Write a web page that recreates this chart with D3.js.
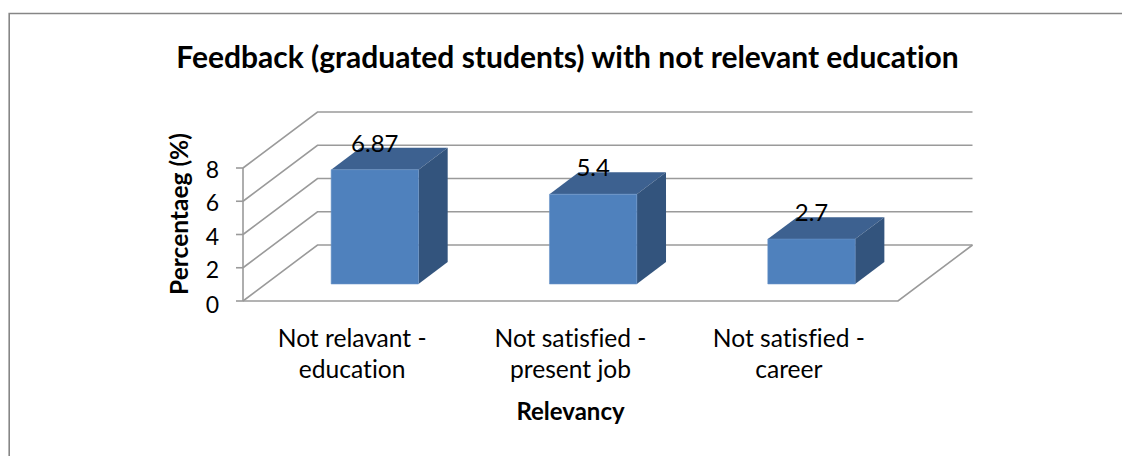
<!DOCTYPE html>
<html>
<head>
<meta charset="utf-8">
<script src="https://cdn.jsdelivr.net/npm/d3@7/dist/d3.min.js"></script>
<style>
html, body { margin: 0; padding: 0; background: #fff; }
svg { display: block; }
text { font-family: Lato, "Open Sans", sans-serif; fill: #000; font-variant-ligatures: none; }
</style>
</head>
<body>
<svg id="chart" width="1122" height="456"></svg>
<script>
const categories = [["Not relavant -", "education"], ["Not satisfied -", "present job"], ["Not satisfied -", "career"]];
const values = [6.87, 5.4, 2.7];
const valueLabels = ["6.87", "5.4", "2.7"];
const yTicks = [0, 2, 4, 6, 8];
const titleText = "Feedback (graduated students) with not relevant education";
const yTitle = "Percentaeg (%)";
const xTitle = "Relevancy";

const svg = d3.select("#chart");
const frontLeft = 243, frontRight = 898, floorY = 301, topY = 168;
const depthX = 74.5, depthY = 56;
const barNear = 0.304, barFar = 0.696;

const x = d3.scaleBand().domain(d3.range(categories.length))
  .range([frontLeft, frontRight]).paddingInner(0.6).paddingOuter(0.3);
const y = d3.scaleLinear().domain([0, 8]).range([floorY, topY]);
const grid = "#9a9a9a";

// Project a point (px along x, value, depth 0..1) into the oblique 3D view.
const px = (a, z) => a + depthX * z;
const py = (v, z) => y(v) - depthY * z;
const poly = pts => pts.map(p => p.join(",")).join(" ");

// Outer chart frame, open at the right and bottom
svg.append("path").attr("d", "M9.2 456V13.5H1122")
  .attr("fill", "none").attr("stroke", "#868686").attr("stroke-width", 1.6);

// Back wall gridlines and their slanted side-wall partners
const g = svg.append("g").attr("fill", "none").attr("stroke", grid).attr("stroke-width", 1.6);
g.selectAll("path.wall").data(yTicks).join("path").attr("class", "wall")
  .attr("d", v => d3.line()([[px(frontLeft, 0), py(v, 0)], [px(frontLeft, 1), py(v, 1)], [px(frontRight, 1), py(v, 1)]]));
// Floor edges
g.append("path").attr("d", d3.line()([[px(frontLeft, 0), py(0, 0)], [px(frontRight, 0), py(0, 0)], [px(frontRight, 1), py(0, 1)]]));
// Value axis and tick marks
g.append("line").attr("x1", frontLeft).attr("x2", frontLeft).attr("y1", y(0)).attr("y2", y(8));
g.selectAll("line.tick").data(yTicks).join("line").attr("class", "tick")
  .attr("x1", frontLeft - 7).attr("x2", frontLeft).attr("y1", y).attr("y2", y);

// Bars: front, top and side faces
const bars = svg.append("g").selectAll("g").data(values).join("g");
bars.append("polygon").attr("fill", "#3d6190").attr("points", (v, i) => {
  const a = x(i), b = a + x.bandwidth();
  return poly([[px(a, barNear), py(v, barNear)], [px(b, barNear), py(v, barNear)], [px(b, barFar), py(v, barFar)], [px(a, barFar), py(v, barFar)]]);
});
bars.append("polygon").attr("fill", "#33547d").attr("points", (v, i) => {
  const b = x(i) + x.bandwidth();
  return poly([[px(b, barNear), py(0, barNear)], [px(b, barNear), py(v, barNear)], [px(b, barFar), py(v, barFar)], [px(b, barFar), py(0, barFar)]]);
});
bars.append("polygon").attr("fill", "#4f81bd").attr("stroke", "#6a94c8").attr("stroke-width", 0.6).attr("points", (v, i) => {
  const a = x(i), b = a + x.bandwidth();
  return poly([[px(a, barNear), py(0, barNear)], [px(b, barNear), py(0, barNear)], [px(b, barNear), py(v, barNear)], [px(a, barNear), py(v, barNear)]]);
});
// Data labels sit centred over the front face, overlapping the top
bars.append("text").text((v, i) => valueLabels[i]).attr("text-anchor", "middle").attr("font-size", 24)
  .attr("x", (v, i) => px(x(i) + x.bandwidth() / 2, barNear))
  .attr("y", v => py(v, barNear) - 18);

// Value axis labels; the zero sits a little lower, clear of the floor line
svg.append("g").selectAll("text").data(yTicks).join("text").text(d => d)
  .attr("text-anchor", "end").attr("font-size", 23).attr("x", 219)
  .attr("y", v => y(v) + (v === 0 ? 12 : 10));

// Category labels
svg.append("g").selectAll("text").data(categories).join("text")
  .attr("text-anchor", "middle").attr("font-size", 24.6)
  .attr("transform", (d, i) => `translate(${x(i) + x.bandwidth() / 2},0)`)
  .selectAll("tspan").data(d => d).join("tspan")
  .attr("x", 0).attr("y", (d, i) => 347 + i * 31).text(d => d);

svg.append("text").text(titleText).attr("x", 567.5).attr("y", 68)
  .attr("text-anchor", "middle").attr("font-size", 30).attr("font-weight", 700);
svg.append("text").text(xTitle).attr("x", 570.5).attr("y", 420)
  .attr("text-anchor", "middle").attr("font-size", 24).attr("font-weight", 700);
svg.append("text").text(yTitle).attr("transform", "translate(188,214) rotate(-90)")
  .attr("text-anchor", "middle").attr("font-size", 24.5).attr("font-weight", 700);
</script>
</body>
</html>
